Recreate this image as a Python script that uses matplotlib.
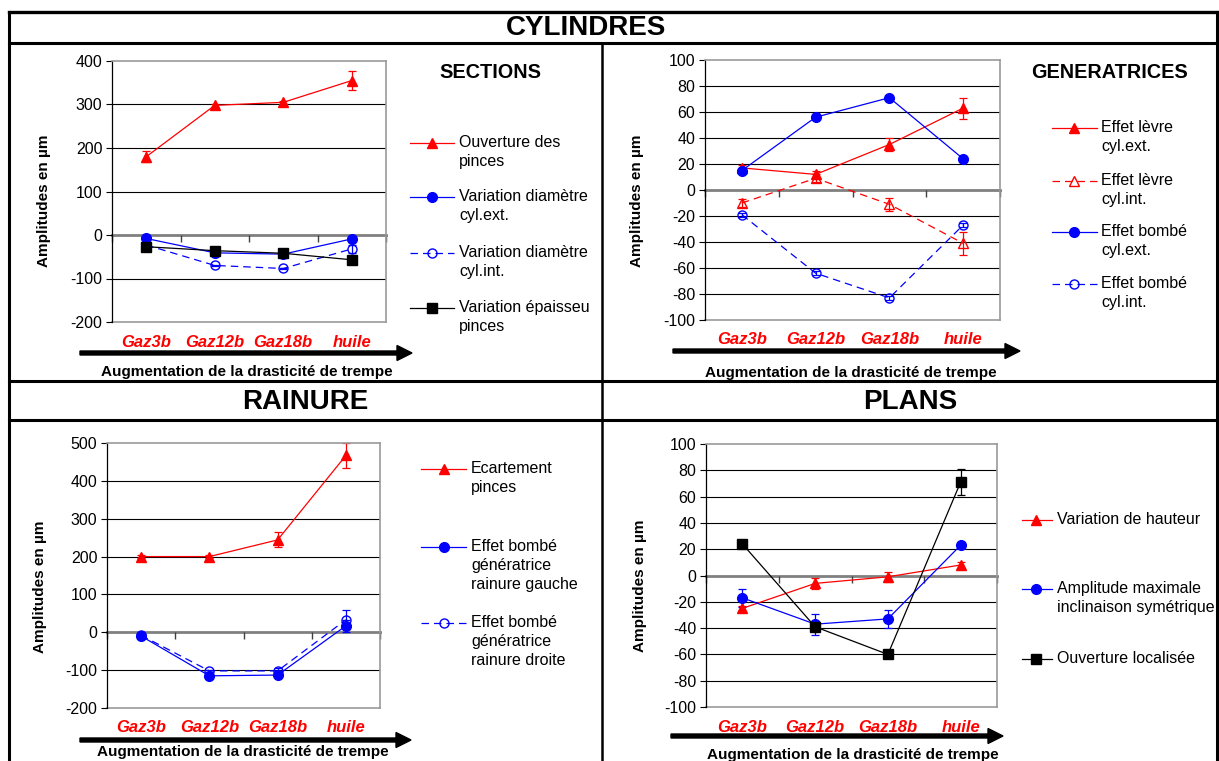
import numpy as np
import matplotlib
matplotlib.use('Agg')
import matplotlib.pyplot as plt
from matplotlib.lines import Line2D
from matplotlib.patches import FancyArrow

plt.rcParams['font.family'] = ['Liberation Sans', 'DejaVu Sans']
plt.rcParams['axes.unicode_minus'] = False

W, H = 1219, 761

categories = ['Gaz3b', 'Gaz12b', 'Gaz18b', 'huile']

# CYLINDRES / SECTIONS
sec_labels = ['Ouverture des\npinces', 'Variation diamètre\ncyl.ext.',
              'Variation diamètre\ncyl.int.', 'Variation épaisseu\npinces']
sec_ouverture = [180, 298, 305, 355]
sec_ouverture_err = [12, 3, 3, 22]
sec_diam_ext = [-8, -41, -44, -9]
sec_diam_int = [-23, -70, -77, -32]
sec_diam_int_err = [2, 2, 2, 9]
sec_epaisseur = [-27, -36, -42, -57]

# CYLINDRES / GENERATRICES
gen_labels = ['Effet lèvre\ncyl.ext.', 'Effet lèvre\ncyl.int.',
              'Effet bombé\ncyl.ext.', 'Effet bombé\ncyl.int.']
gen_levre_ext = [17, 12, 35, 63]
gen_levre_ext_err = [2, 3, 5, 8]
gen_levre_int = [-10, 9, -11, -41]
gen_levre_int_err = [3, 3, 5, 9]
gen_bombe_ext = [15, 56, 71, 24]
gen_bombe_int = [-19, -64, -83, -27]
gen_bombe_int_err = [1.5, 1.5, 1.5, 1.5]

# RAINURE
rai_labels = ['Ecartement\npinces', 'Effet bombé\ngénératrice\nrainure gauche',
              'Effet bombé\ngénératrice\nrainure droite']
rai_ecartement = [200, 200, 244, 467]
rai_ecartement_err = [3, 3, 20, 33]
rai_gauche = [-10, -115, -113, 17]
rai_gauche_err = [3, 5, 5, 15]
rai_droite = [-8, -102, -102, 33]
rai_droite_err = [2, 3, 8, 25]

# PLANS
pla_labels = ['Variation de hauteur', 'Amplitude maximale\ninclinaison symétrique',
              'Ouverture localisée']
pla_hauteur = [-25, -6, -1, 8]
pla_hauteur_err = [2, 4, 4, 2]
pla_inclinaison = [-17, -37, -33, 23]
pla_inclinaison_err = [7, 8, 7, 1]
pla_ouverture = [24, -39, -60, 71]
pla_ouverture_err = [1, 2, 3, 10]

RED, BLUE, BLACK = '#FF0000', '#0000FF', '#000000'
DASH = (0, (6, 4))
red_tri = dict(color=RED, marker='^', ms=7.5, mfc=RED, mec=RED, ls='-')
red_tri_open = dict(color=RED, marker='^', ms=7.5, mfc='none', mec=RED, ls=DASH)
blue_dot = dict(color=BLUE, marker='o', ms=7, mfc=BLUE, mec=BLUE, ls='-')
blue_open = dict(color=BLUE, marker='o', ms=6.5, mfc='none', mec=BLUE, ls=DASH)
black_sq = dict(color=BLACK, marker='s', ms=7, mfc=BLACK, mec=BLACK, ls='-')

fig = plt.figure(figsize=(W / 100, H / 100), dpi=100)


def fx(x):
    return x / W


def fy(y):
    return 1 - y / H


def fig_line(x0, y0, x1, y1, lw=2.2):
    fig.add_artist(Line2D([fx(x0), fx(x1)], [fy(y0), fy(y1)], color='black',
                          lw=lw, transform=fig.transFigure, solid_capstyle='projecting'))


def draw_panel(box, ylim, ystep, series):
    x0, y0, x1, y1 = box
    ax = fig.add_axes([fx(x0), fy(y1), (x1 - x0) / W, (y1 - y0) / H])
    xs = np.arange(len(categories))
    for vals, err, st in series:
        ax.errorbar(xs, vals, yerr=err, lw=0.9, elinewidth=0.9, capsize=3,
                    capthick=0.9, **st)
    ax.set_xlim(-0.5, len(categories) - 0.5)
    ax.set_ylim(*ylim)
    yt = np.arange(ylim[0], ylim[1] + ystep, ystep)
    ax.set_yticks(yt)
    for v in yt[1:-1]:
        if v != 0:
            ax.axhline(v, color='black', lw=0.8, zorder=0.5)
    ax.axhline(ylim[0], color='#999999', lw=1.2, clip_on=False, zorder=0.6)
    for s in ['top', 'right']:
        ax.spines[s].set_color('#999999')
        ax.spines[s].set_linewidth(1.2)
    ax.spines['left'].set_linewidth(0.9)
    ax.spines['bottom'].set_position(('data', 0))
    ax.spines['bottom'].set_color('#808080')
    ax.spines['bottom'].set_linewidth(2)
    ax.spines['bottom'].set_zorder(1.5)
    ax.set_xticks(np.arange(-0.5, len(categories), 1))
    ax.set_xticklabels([])
    ax.tick_params(axis='x', direction='out', length=5, width=1, color='#404040')
    ax.tick_params(axis='y', direction='out', length=4, width=0.8, labelsize=11.5, pad=3)
    for i, c in enumerate(categories):
        ax.annotate(c, xy=(i, 0), xycoords=('data', 'axes fraction'), xytext=(0, -20),
                    textcoords='offset pixels', ha='center', va='center', color=RED,
                    fontsize=12, fontweight='bold', fontstyle='italic', annotation_clip=False)
    return ax


def draw_legend(entries, lx0, lx1, mx, tx, ys):
    for (label, st), y in zip(entries, ys):
        fig.add_artist(Line2D([fx(lx0), fx(lx1)], [fy(y), fy(y)], color=st['color'],
                              ls=st['ls'], lw=0.9, transform=fig.transFigure))
        fig.add_artist(Line2D([fx(mx)], [fy(y)], marker=st['marker'], ms=st['ms'],
                              mfc=st['mfc'], mec=st['mec'], ls='none',
                              transform=fig.transFigure))
        fig.text(fx(tx), fy(y - 8), label, ha='left', va='top', fontsize=11.5,
                 linespacing=1.32)


def draw_arrow(xa, xb, y, text_x, text_y):
    fig.add_artist(FancyArrow(fx(xa), fy(y), fx(xb) - fx(xa), 0, width=4 / H,
                              head_width=15 / H, head_length=15 / W,
                              length_includes_head=True, color='black',
                              transform=fig.transFigure))
    fig.text(fx(text_x), fy(text_y), 'Augmentation de la drasticité de trempe',
             ha='center', va='center', fontsize=11, fontweight='bold')


def ylabel(x, y):
    fig.text(fx(x), fy(y), 'Amplitudes en µm', rotation=90, ha='center', va='center',
             fontsize=11, fontweight='bold')


# frame
fig_line(9, 12, 1217, 12, lw=2.4)
fig_line(9, 12, 9, 761)
fig_line(1217, 12, 1217, 761)
fig_line(9, 43, 1217, 43)
fig_line(9, 381, 1217, 381)
fig_line(9, 420, 1217, 420)
fig_line(602, 43, 602, 761, lw=1.8)

fig.text(fx(586), fy(28), 'CYLINDRES', ha='center', va='center', fontsize=20, fontweight='bold')
fig.text(fx(305), fy(402), 'RAINURE', ha='center', va='center', fontsize=20, fontweight='bold')
fig.text(fx(910), fy(402), 'PLANS', ha='center', va='center', fontsize=20, fontweight='bold')

# SECTIONS
draw_panel((112, 61, 386, 322), (-200, 400), 100, [
    (sec_ouverture, sec_ouverture_err, red_tri),
    (sec_diam_ext, None, blue_dot),
    (sec_diam_int, sec_diam_int_err, blue_open),
    (sec_epaisseur, None, black_sq),
])
fig.text(fx(490), fy(73), 'SECTIONS', ha='center', va='center', fontsize=14.3, fontweight='bold')
draw_legend(list(zip(sec_labels, [red_tri, blue_dot, blue_open, black_sq])),
            410, 454, 432, 459, [143, 197, 253, 308])
ylabel(44, 201)
draw_arrow(80, 412, 353, 247, 372)

# GENERATRICES
draw_panel((705, 60, 1000, 320), (-100, 100), 20, [
    (gen_levre_ext, gen_levre_ext_err, red_tri),
    (gen_levre_int, gen_levre_int_err, red_tri_open),
    (gen_bombe_ext, None, blue_dot),
    (gen_bombe_int, gen_bombe_int_err, blue_open),
])
fig.text(fx(1109), fy(73), 'GENERATRICES', ha='center', va='center', fontsize=14.3, fontweight='bold')
draw_legend(list(zip(gen_labels, [red_tri, red_tri_open, blue_dot, blue_open])),
            1052, 1097, 1074, 1101, [128, 181, 232, 284])
ylabel(637, 201)
draw_arrow(673, 1020, 351, 851, 373)

# RAINURE
draw_panel((107, 443, 380, 708), (-200, 500), 100, [
    (rai_ecartement, rai_ecartement_err, red_tri),
    (rai_gauche, rai_gauche_err, blue_dot),
    (rai_droite, rai_droite_err, blue_open),
])
draw_legend(list(zip(rai_labels, [red_tri, blue_dot, blue_open])),
            421, 466, 444, 471, [469, 547, 623])
ylabel(40, 587)
draw_arrow(80, 411, 740, 243, 752)

# PLANS
draw_panel((706, 444, 997, 707), (-100, 100), 20, [
    (pla_hauteur, pla_hauteur_err, red_tri),
    (pla_inclinaison, pla_inclinaison_err, blue_dot),
    (pla_ouverture, pla_ouverture_err, black_sq),
])
draw_legend(list(zip(pla_labels, [red_tri, blue_dot, black_sq])),
            1022, 1052, 1036, 1057, [520, 589, 659])
ylabel(640, 586)
draw_arrow(671, 1003, 736, 853, 755)

fig.savefig('out.png', dpi=100)
